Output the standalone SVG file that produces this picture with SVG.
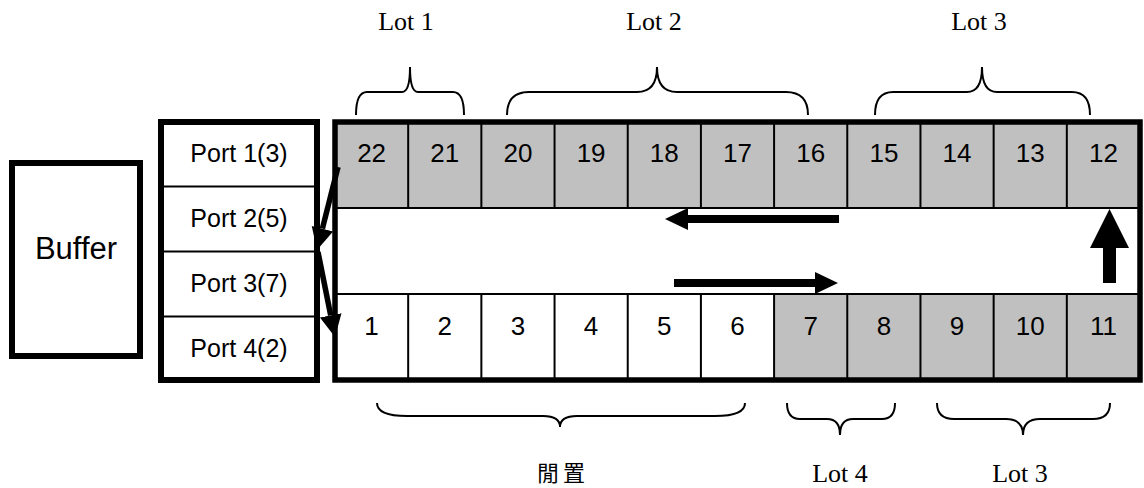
<svg xmlns="http://www.w3.org/2000/svg" width="1144" height="488" viewBox="0 0 1144 488">
<defs>
<style>
.thick{fill:none;stroke:#000;stroke-width:5.5}
.thin{stroke:#000;stroke-width:2;fill:none}
.brace{fill:none;stroke:#000;stroke-width:2}
.num{font-family:"Liberation Sans",Arial,sans-serif;font-size:26px;text-anchor:middle;fill:#000}
.port{font-family:"Liberation Sans",Arial,sans-serif;font-size:25px;text-anchor:middle;fill:#000}
.lot{font-family:"Liberation Serif","Times New Roman",serif;font-size:26px;text-anchor:middle;fill:#000}
.cjk{font-family:"Noto Sans CJK TC","Noto Sans CJK SC",sans-serif;font-size:22px;text-anchor:middle;fill:#000;letter-spacing:4px}
.gray{fill:#c0c0c0}
.arrow{fill:#000}
</style>
<marker id="head" viewBox="0 -12 24 24" refX="0" refY="0" markerWidth="24" markerHeight="24" markerUnits="userSpaceOnUse" orient="auto">
<path d="M0,-11 L22,0 L0,11 z" fill="#000"/>
</marker>
</defs>
<rect width="1144" height="488" fill="#fff"/>

<g id="buffer">
<rect x="12" y="163" width="128" height="193" fill="#fff" stroke="#000" stroke-width="6"/>
<text x="76" y="259" style="font-family:'Liberation Sans',Arial,sans-serif;font-size:31px;text-anchor:middle">Buffer</text>
</g>

<g id="ports">
<rect x="161" y="122" width="156" height="258" fill="#fff" stroke="#000" stroke-width="6"/>
<line class="thin" x1="161" y1="186.5" x2="317" y2="186.5"/>
<line class="thin" x1="161" y1="251.5" x2="317" y2="251.5"/>
<line class="thin" x1="161" y1="316.5" x2="317" y2="316.5"/>
<text class="port" x="239" y="162">Port 1(3)</text>
<text class="port" x="239" y="227">Port 2(5)</text>
<text class="port" x="239" y="292">Port 3(7)</text>
<text class="port" x="239" y="357">Port 4(2)</text>
</g>

<g id="track">
<rect class="gray" x="335" y="122" width="805" height="86"/>
<rect class="gray" x="774.09" y="294" width="365.91" height="86"/>
<line class="thin" x1="335" y1="208" x2="1140" y2="208"/>
<line class="thin" x1="335" y1="294" x2="1140" y2="294"/>
<g class="thin">
<line x1="408.18" y1="122" x2="408.18" y2="208"/>
<line x1="481.36" y1="122" x2="481.36" y2="208"/>
<line x1="554.55" y1="122" x2="554.55" y2="208"/>
<line x1="627.73" y1="122" x2="627.73" y2="208"/>
<line x1="700.91" y1="122" x2="700.91" y2="208"/>
<line x1="774.09" y1="122" x2="774.09" y2="208"/>
<line x1="847.27" y1="122" x2="847.27" y2="208"/>
<line x1="920.45" y1="122" x2="920.45" y2="208"/>
<line x1="993.64" y1="122" x2="993.64" y2="208"/>
<line x1="1066.82" y1="122" x2="1066.82" y2="208"/>
<line x1="408.18" y1="294" x2="408.18" y2="380"/>
<line x1="481.36" y1="294" x2="481.36" y2="380"/>
<line x1="554.55" y1="294" x2="554.55" y2="380"/>
<line x1="627.73" y1="294" x2="627.73" y2="380"/>
<line x1="700.91" y1="294" x2="700.91" y2="380"/>
<line x1="774.09" y1="294" x2="774.09" y2="380"/>
<line x1="847.27" y1="294" x2="847.27" y2="380"/>
<line x1="920.45" y1="294" x2="920.45" y2="380"/>
<line x1="993.64" y1="294" x2="993.64" y2="380"/>
<line x1="1066.82" y1="294" x2="1066.82" y2="380"/>
</g>
<rect class="thick" x="335" y="122" width="805" height="258"/>
<g id="top-cells">
<text class="num" x="371.6" y="162">22</text>
<text class="num" x="444.8" y="162">21</text>
<text class="num" x="518.0" y="162">20</text>
<text class="num" x="591.1" y="162">19</text>
<text class="num" x="664.3" y="162">18</text>
<text class="num" x="737.5" y="162">17</text>
<text class="num" x="810.7" y="162">16</text>
<text class="num" x="883.9" y="162">15</text>
<text class="num" x="957.0" y="162">14</text>
<text class="num" x="1030.2" y="162">13</text>
<text class="num" x="1103.4" y="162">12</text>
</g>
<g id="bottom-cells">
<text class="num" x="371.6" y="335">1</text>
<text class="num" x="444.8" y="335">2</text>
<text class="num" x="518.0" y="335">3</text>
<text class="num" x="591.1" y="335">4</text>
<text class="num" x="664.3" y="335">5</text>
<text class="num" x="737.5" y="335">6</text>
<text class="num" x="810.7" y="335">7</text>
<text class="num" x="883.9" y="335">8</text>
<text class="num" x="957.0" y="335">9</text>
<text class="num" x="1030.2" y="335">10</text>
<text class="num" x="1103.4" y="335">11</text>
</g>
</g>

<g id="braces">
<path class="brace" d="M356,115 Q356,92 367,92 L402,92 Q410,92 410,67 Q410,92 418,92 L453,92 Q464,92 464,115"/>
<path class="brace" d="M507,115 Q507,92 529,92 L637,92 Q657,92 657,67 Q657,92 677,92 L786,92 Q808,92 808,115"/>
<path class="brace" d="M875,115 Q875,92 893,92 L967,92 Q982,92 982,67 Q982,92 997,92 L1072,92 Q1090,92 1090,115"/>
<path class="brace" d="M377,403 Q377,416 407,416 L543,416 Q560,416 560,427 Q560,416 577,416 L715,416 Q745,416 745,403"/>
<path class="brace" d="M787,403 Q787,419 800,419 L827,419 Q840,419 840,435 Q840,419 853,419 L882,419 Q895,419 895,403"/>
<path class="brace" d="M937,403 Q937,419 954,419 L1006,419 Q1023,419 1023,435 Q1023,419 1040,419 L1093,419 Q1110,419 1110,403"/>
</g>

<g id="labels">
<text class="lot" x="406" y="30">Lot 1</text>
<text class="lot" x="654" y="30">Lot 2</text>
<text class="lot" x="979" y="30">Lot 3</text>
<text class="cjk" x="563" y="481">閒置</text>
<text class="lot" x="840" y="482">Lot 4</text>
<text class="lot" x="1020" y="482">Lot 3</text>
</g>

<g id="connectors">
<line x1="338" y1="167" x2="322.4" y2="228.7" stroke="#000" stroke-width="5.5" marker-end="url(#head)"/>
<line x1="318" y1="252" x2="330.7" y2="315.4" stroke="#000" stroke-width="5.5" marker-end="url(#head)"/>
<polygon class="arrow" points="839,215 688,215 688,208 665,219 688,230 688,223 839,223"/>
<polygon class="arrow" points="674,279 815,279 815,272 838,283 815,294 815,287 674,287"/>
<polygon class="arrow" points="1103,283 1103,248 1090,248 1109.5,209 1129,248 1116,248 1116,283"/>
</g>
</svg>
